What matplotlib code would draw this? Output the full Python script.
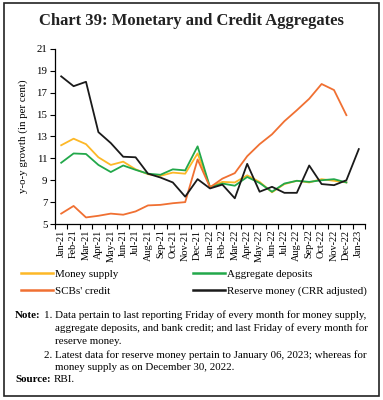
import matplotlib
matplotlib.use("Agg")
import matplotlib.pyplot as plt
from matplotlib.patches import Rectangle

months = ["Jan-21", "Feb-21", "Mar-21", "Apr-21", "May-21", "Jun-21", "Jul-21", "Aug-21",
          "Sep-21", "Oct-21", "Nov-21", "Dec-21", "Jan-22", "Feb-22", "Mar-22", "Apr-22",
          "May-22", "Jun-22", "Jul-22", "Aug-22", "Sep-22", "Oct-22", "Nov-22", "Dec-22", "Jan-23"]

money_supply = [12.2, 12.8, 12.3, 11.1, 10.4, 10.7, 10.0, 9.55, 9.4, 9.7, 9.6, 11.45, 8.4,
                8.85, 8.8, 9.45, 8.85, 7.9, 8.65, 8.95, 8.8, 9.1, 8.95, 8.8]
aggregate_deposits = [10.6, 11.45, 11.4, 10.4, 9.75, 10.35, 9.95, 9.6, 9.5, 10.0, 9.9, 12.1, 8.35,
                      8.7, 8.5, 9.3, 8.75, 7.95, 8.7, 8.95, 8.85, 9.0, 9.1, 8.8]
scb_credit = [5.95, 6.65, 5.6, 5.75, 5.95, 5.85, 6.15, 6.7, 6.75, 6.9, 7.0, 10.9, 8.35,
              9.15, 9.65, 11.2, 12.3, 13.2, 14.4, 15.4, 16.45, 17.8, 17.25, 14.95]
reserve_money = [18.5, 17.6, 18.0, 13.4, 12.4, 11.15, 11.1, 9.6, 9.25, 8.8, 7.5, 9.1, 8.25,
                 8.6, 7.35, 10.5, 7.95, 8.4, 7.85, 7.85, 10.35, 8.65, 8.55, 9.0, 11.85]

yticks = [5, 7, 9, 11, 13, 15, 17, 19, 21]

c_money = "#FDB827"
c_dep = "#22A84A"
c_credit = "#F07032"
c_res = "#1A1A1A"

serif = ["Liberation Serif", "DejaVu Serif"]
plt.rcParams["font.family"] = serif

W, H = 383, 400
fig = plt.figure(figsize=(W / 100, H / 100), dpi=100)
fig.patch.set_facecolor("white")

ax = fig.add_axes([55 / W, 1 - 224 / H, (365 - 55) / W, (224 - 49) / H])
x = list(range(len(months)))
lw = 1.3
l1, = ax.plot(x[:len(money_supply)], money_supply, color=c_money, lw=lw)
l2, = ax.plot(x[:len(aggregate_deposits)], aggregate_deposits, color=c_dep, lw=lw)
l3, = ax.plot(x[:len(scb_credit)], scb_credit, color=c_credit, lw=lw)
l4, = ax.plot(x[:len(reserve_money)], reserve_money, color=c_res, lw=lw)

ax.set_xlim(-0.5, len(months) - 0.5)
ax.set_ylim(5, 21)
ax.set_yticks(yticks)
ax.set_yticklabels([str(v) for v in yticks], fontsize=7.8)
ax.set_xticks(x)
ax.set_xticklabels(months, rotation=90, fontsize=7.4)
ax.set_xticks([i - 0.5 for i in range(len(months) + 1)], minor=True)
ax.tick_params(axis="x", which="major", length=0, pad=4)
ax.tick_params(axis="x", which="minor", length=3.5, width=0.8, direction="out")
ax.tick_params(axis="y", length=3.5, width=0.8, direction="out", pad=2)
for s in ["top", "right"]:
    ax.spines[s].set_visible(False)
for s in ["left", "bottom"]:
    ax.spines[s].set_linewidth(0.9)
ax.set_ylabel("y-o-y growth (in per cent)", fontsize=7.8)
ax.yaxis.set_label_coords(-27 / 310, 0.5)

# Title
fig.text(0.5, 1 - 21 / H, "Chart 39: Monetary and Credit Aggregates", ha="center", va="center",
         fontsize=12, fontweight="bold", color="#222222")

# Legends
leg_kw = dict(frameon=False, fontsize=7.9, handlelength=2.9, handletextpad=0.2,
              labelspacing=0.7, borderpad=0, borderaxespad=0, loc="upper left")
lg1 = fig.legend([l1, l3], ["Money supply", "SCBs' credit"],
                 bbox_to_anchor=(21 / W, 1 - 269 / H), **leg_kw)
lg2 = fig.legend([l2, l4], ["Aggregate deposits", "Reserve money (CRR adjusted)"],
                 bbox_to_anchor=(193 / W, 1 - 269 / H), **leg_kw)
for lg in (lg1, lg2):
    for h in lg.legend_handles:
        h.set_linewidth(1.8)

# Notes
fs = 7.95
def ft(xp, yp, s, **kw):
    fig.text(xp / W, 1 - yp / H, s, va="center", ha="left", fontsize=fs, **kw)

ft(15, 315, "Note:", fontweight="bold")
ft(44, 315, "1. Data pertain to last reporting Friday of every month for money supply,")
ft(55, 328.5, "aggregate deposits, and bank credit; and last Friday of every month for")
ft(55, 341.5, "reserve money.")
ft(44, 355, "2. Latest data for reserve money pertain to January 06, 2023; whereas for")
ft(55, 367.5, "money supply as on December 30, 2022.")
ft(15, 380, "Source:", fontweight="bold")
ft(54, 380, "RBI.")

# Frame
fig.patches.append(Rectangle((4 / W, 1 - 396 / H), (379 - 4) / W, (396 - 3) / H,
                             transform=fig.transFigure, fill=False, edgecolor="#222222",
                             linewidth=1.2))

fig.savefig("out.png", dpi=100)
